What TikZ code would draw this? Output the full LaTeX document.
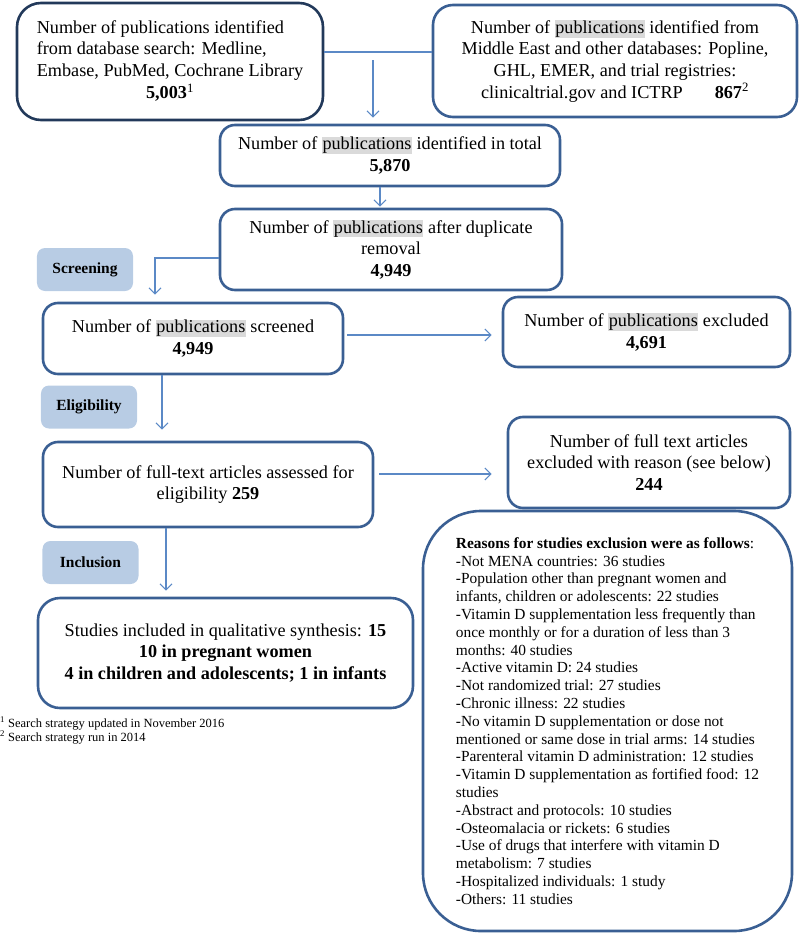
\documentclass[tikz,border=0pt]{standalone}
\usepackage{fontspec}
\setmainfont{Liberation Serif}
\usetikzlibrary{arrows.meta}
\definecolor{boxblue}{HTML}{3A5F93}
\definecolor{navyblue}{HTML}{22395A}
\definecolor{arrowblue}{HTML}{5B89C6}
\definecolor{labelblue}{HTML}{B8CCE4}
\definecolor{hlgray}{HTML}{DADADA}
\newcommand{\pubs}{{\setlength{\fboxsep}{0.6bp}\colorbox{hlgray}{publications}}}

\begin{document}
\begin{tikzpicture}[x=1bp,y=-1bp,
  box/.style={draw=\BOXCOLOR, line width=2.6bp, rounded corners=15bp, align=center, inner sep=0pt,
    font=\fontsize{18.2bp}{21.7bp}\selectfont},
  stage/.style={fill=\STAGECOLOR, rounded corners=8bp, inner sep=0pt, minimum width=96bp, minimum height=43bp,
    font=\fontsize{15.5bp}{17bp}\selectfont\bfseries},
  link/.style={draw=\ARROWCOLOR, line width=1.2bp},
  arr/.style={link, -{Straight Barb[length=6bp,width=12bp]}}
]
\def\BOXCOLOR{boxblue}
\def\STAGECOLOR{labelblue}
\def\ARROWCOLOR{arrowblue}
\useasboundingbox (0,0) rectangle (800,933);

\node[box, draw=navyblue, rounded corners=24bp, minimum width=306bp, minimum height=117bp] (search) at (170,61.5)
  {\begin{tabular}{@{}l@{}}Number of publications identified\\from database search: Medline,\\Embase, PubMed, Cochrane Library\\\multicolumn{1}{@{}c@{}}{\textbf{5,003}\textsuperscript{1}}\end{tabular}};
\node[box, rounded corners=20bp, minimum width=364bp, minimum height=112bp] (other) at (615,61)
  {Number of \pubs{} identified from\\Middle East and other databases: Popline,\\GHL, EMER, and trial registries:\\clinicaltrial.gov and ICTRP\hspace{32bp}\textbf{867}\textsuperscript{2}};
\node[box, minimum width=340bp, minimum height=61bp] (total) at (390,155.5)
  {Number of \pubs{} identified in total\\\textbf{5,870}};
\node[box, minimum width=342bp, minimum height=81bp] (dedup) at (391,249.5)
  {Number of \pubs{} after duplicate\\removal\\\textbf{4,949}};
\node[box, minimum width=300bp, minimum height=71bp] (screened) at (193,338.5)
  {Number of \pubs{} screened\\\textbf{4,949}};
\node[box, minimum width=287bp, minimum height=70bp] (excluded) at (646.5,332)
  {Number of \pubs{} excluded\\\textbf{4,691}};
\node[box, minimum width=330bp, minimum height=85bp] (fulltext) at (208,484.5)
  {Number of full-text articles assessed for\\eligibility \textbf{259}};
\node[box, minimum width=282bp, minimum height=91bp] (ftexcl) at (649,462.5)
  {Number of full text articles\\excluded with reason (see below)\\\textbf{244}};
\node[box, rounded corners=58bp, align=left, minimum width=369bp, minimum height=420bp,
  font=\fontsize{15.4bp}{17.8bp}\selectfont] (reasons) at (607.5,721)
  {\textbf{Reasons for studies exclusion were as follows}:\\
  -Not MENA countries: 36 studies\\
  -Population other than pregnant women and\\
  infants, children or adolescents: 22 studies\\
  -Vitamin D supplementation less frequently than\\
  once monthly or for a duration of less than 3\\
  months: 40 studies\\
  -Active vitamin D: 24 studies\\
  -Not randomized trial: 27 studies\\
  -Chronic illness: 22 studies\\
  -No vitamin D supplementation or dose not\\
  mentioned or same dose in trial arms: 14 studies\\
  -Parenteral vitamin D administration: 12 studies\\
  -Vitamin D supplementation as fortified food: 12\\
  studies\\
  -Abstract and protocols: 10 studies\\
  -Osteomalacia or rickets: 6 studies\\
  -Use of drugs that interfere with vitamin D\\
  metabolism: 7 studies\\
  -Hospitalized individuals: 1 study\\
  -Others: 11 studies};
\node[box, rounded corners=22bp, minimum width=375bp, minimum height=110bp] (included) at (225.5,653)
  {Studies included in qualitative synthesis: \textbf{15}\\\textbf{10 in pregnant women}\\\textbf{4 in children and adolescents; 1 in infants}};

\node[stage] (screening) at (85,269.5) {Screening};
\node[stage] (eligibility) at (89,407) {Eligibility};
\node[stage] (inclusion) at (90.5,562.5) {Inclusion};

\node[anchor=north west, align=left, inner sep=0pt, font=\fontsize{12.5bp}{14bp}\selectfont] (notes) at (0,717)
  {\textsuperscript{1} Search strategy updated in November 2016\\\textsuperscript{2} Search strategy run in 2014};

\draw[link] ([yshift=9.5bp]search.east) -- ([yshift=9.5bp]search.east -| other.west);
\coordinate (join) at (373,52);
\draw[arr, shorten <=8bp, shorten >=6bp] (join) -- (join |- total.north);
\draw[arr, shorten >=1bp] ([xshift=-10bp]total.south) -- ([xshift=-10bp]total.south |- dedup.north);
\draw[arr, shorten >=7bp] ([yshift=-8.5bp]dedup.west) -| ([xshift=-38bp]screened.north);
\coordinate (toexcl) at ([yshift=3.5bp]screened.east);
\draw[arr, shorten <=3bp, shorten >=10bp] (toexcl) -- (toexcl -| excluded.west);
\draw[arr, shorten >=11bp] ([xshift=-31bp]screened.south) -- ([xshift=-31bp]screened.south |- fulltext.north);
\coordinate (toftexcl) at ([yshift=10.5bp]fulltext.east);
\draw[arr, shorten <=5bp, shorten >=15bp] (toftexcl) -- (toftexcl -| ftexcl.west);
\draw[arr, shorten >=6bp] ([xshift=-42bp]fulltext.south) -- ([xshift=-42bp]fulltext.south |- included.north);

\end{tikzpicture}
\end{document}
